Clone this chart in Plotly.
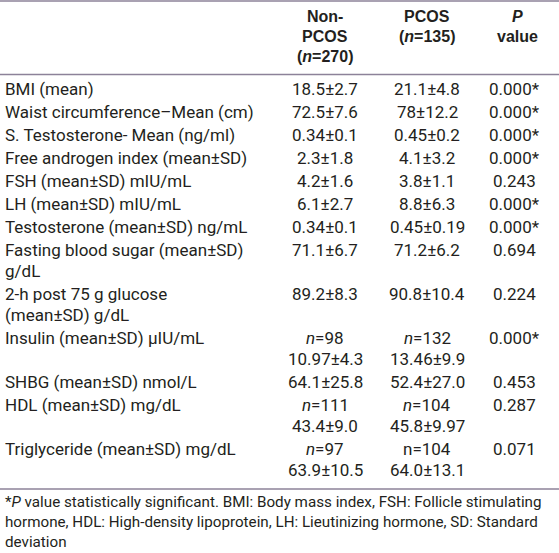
import plotly.graph_objects as go

# ---- data ----
header_non = ["Non-", "PCOS", "(<i>n</i>=270)"]
header_pcos = ["PCOS", "(<i>n</i>=135)"]
header_p = ["<i>P</i>", "value"]

labels = [
    ["BMI (mean)"],
    ["Waist circumference–Mean (cm)"],
    ["S. Testosterone- Mean (ng/ml)"],
    ["Free androgen index (mean±SD)"],
    ["FSH (mean±SD) mIU/mL"],
    ["LH (mean±SD) mIU/mL"],
    ["Testosterone (mean±SD) ng/mL"],
    ["Fasting blood sugar (mean±SD)", "g/dL"],
    ["2-h post 75 g glucose", "(mean±SD) g/dL"],
    ["Insulin (mean±SD) μIU/mL"],
    ["SHBG (mean±SD) nmol/L"],
    ["HDL (mean±SD) mg/dL"],
    ["Triglyceride (mean±SD) mg/dL"],
]
non_pcos = [
    ["18.5±2.7"], ["72.5±7.6"], ["0.34±0.1"], ["2.3±1.8"], ["4.2±1.6"],
    ["6.1±2.7"], ["0.34±0.1"], ["71.1±6.7"], ["89.2±8.3"],
    ["<i>n</i>=98", "10.97±4.3"], ["64.1±25.8"],
    ["<i>n</i>=111", "43.4±9.0"], ["<i>n</i>=97", "63.9±10.5"],
]
pcos = [
    ["21.1±4.8"], ["78±12.2"], ["0.45±0.2"], ["4.1±3.2"], ["3.8±1.1"],
    ["8.8±6.3"], ["0.45±0.19"], ["71.2±6.2"], ["90.8±10.4"],
    ["<i>n</i>=132", "13.46±9.9"], ["52.4±27.0"],
    ["<i>n</i>=104", "45.8±9.97"], ["n=104", "64.0±13.1"],
]
p_values = ["0.000*", "0.000*", "0.000*", "0.000*", "0.243", "0.000*", "0.000*",
            "0.694", "0.224", "0.000*", "0.453", "0.287", "0.071"]
footnote = [
    "*<i>P</i> value statistically significant. BMI: Body mass index, FSH: Follicle stimulating",
    "hormone, HDL: High-density lipoprotein, LH: Lieutinizing hormone, SD: Standard",
    "deviation",
]

# ---- layout parameters ----
W, H = 559, 553
TXT = "#231f20"
RULE = "#8c8299"
BODY_FONT = "Roboto"
HEAD_FONT = "Liberation Sans"
BODY_SIZE = 17
FOOT_SIZE = 15.2
HEAD_SIZE = 16
col_label_x = 3
col_non_x = 325
col_pcos_x = 427
col_p_x = 514
head_y0, head_dy = 16, 20
body_y0, line_h, row_pad = 89, 21, 2
foot_y0, foot_dy = 502, 20

annotations = []

def add(text, x, y, anchor, font=BODY_FONT, size=BODY_SIZE, bold=False):
    annotations.append(dict(
        text=f"<b>{text}</b>" if bold else text, x=x, y=y, xref="x", yref="y",
        xanchor=anchor, yanchor="middle", showarrow=False,
        font=dict(family=font, size=size, color=TXT)))

for i, t in enumerate(header_non):
    add(t, col_non_x, head_y0 + i * head_dy, "center", HEAD_FONT, HEAD_SIZE, True)
for i, t in enumerate(header_pcos):
    add(t, col_pcos_x, head_y0 + i * head_dy, "center", HEAD_FONT, HEAD_SIZE, True)
for i, t in enumerate(header_p):
    add(t, col_p_x + 3, head_y0 + i * head_dy, "center", HEAD_FONT, HEAD_SIZE, True)

y = body_y0
for lab, a, b, p in zip(labels, non_pcos, pcos, p_values):
    nlines = max(len(lab), len(a), len(b))
    for k, t in enumerate(lab):
        add(t, col_label_x, y + k * line_h, "left")
    for k, t in enumerate(a):
        add(t, col_non_x, y + k * line_h, "center")
    for k, t in enumerate(b):
        add(t, col_pcos_x, y + k * line_h, "center")
    add(p, col_p_x, y, "center")
    y += nlines * line_h + row_pad
last_y = y - row_pad - line_h

for i, t in enumerate(footnote):
    add(t, col_label_x, foot_y0 + i * foot_dy, "left", size=FOOT_SIZE)

rules_y = [1, 74.5, last_y + 19]
shapes = [dict(type="line", xref="x", yref="y", x0=0, x1=W, y0=ry, y1=ry,
               line=dict(color=RULE, width=1.6)) for ry in rules_y]

fig = go.Figure()
fig.update_layout(
    width=W, height=H, margin=dict(l=0, r=0, t=0, b=0),
    paper_bgcolor="white", plot_bgcolor="white",
    xaxis=dict(range=[0, W], visible=False, fixedrange=True),
    yaxis=dict(range=[H, 0], visible=False, fixedrange=True),
    annotations=annotations, shapes=shapes, showlegend=False,
)
fig.write_html("out.html", config={"displayModeBar": False},
               post_script="document.body.style.margin='0px';")
